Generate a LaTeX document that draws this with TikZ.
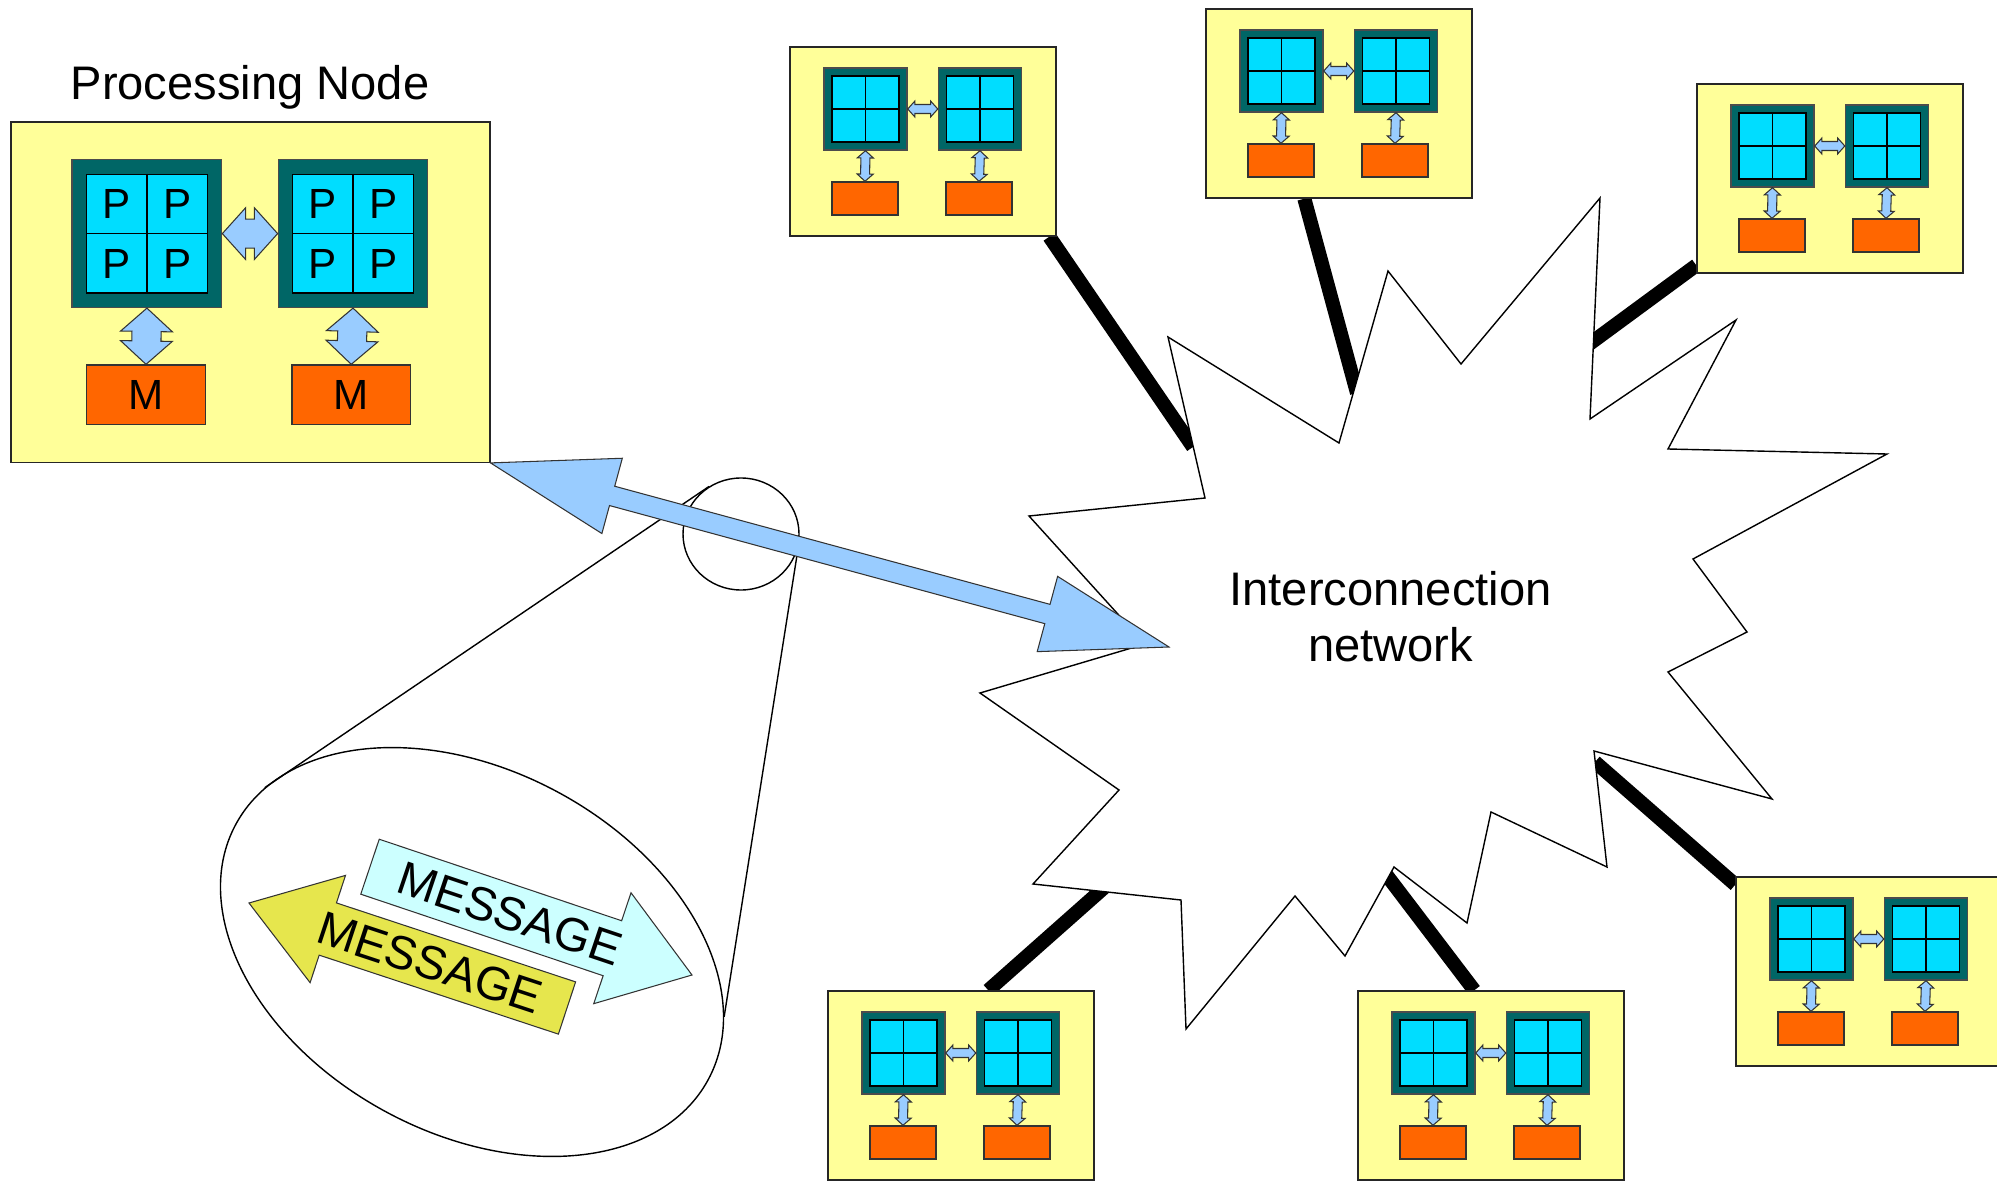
\documentclass[tikz,border=0pt]{standalone}
\usepackage{fontspec}
\setmainfont{Liberation Sans}
\usepackage{tikz}
\usetikzlibrary{calc, backgrounds, shapes.geometric}
\definecolor{nodeyellow}{RGB}{255,255,153}
\definecolor{chipteal}{RGB}{0,102,102}
\definecolor{corecyan}{RGB}{0,221,255}
\definecolor{memorange}{RGB}{255,102,0}
\definecolor{busblue}{RGB}{153,204,255}
\definecolor{msgcyan}{RGB}{204,255,255}
\definecolor{msgyellow}{RGB}{230,230,77}
\newcommand{\pnscale}{1}
\tikzset{
  pnbox/.style={rectangle, draw=black!85, fill=nodeyellow, inner sep=0pt,
                minimum width=\pnscale*2.66cm, minimum height=\pnscale*1.89cm},
  chip/.style={rectangle, draw=black!70, fill=chipteal, inner sep=0pt,
               minimum width=\pnscale*0.83cm, minimum height=\pnscale*0.82cm},
  cores/.style={rectangle, draw=black, fill=corecyan, inner sep=0pt,
                minimum width=\pnscale*0.67cm, minimum height=\pnscale*0.66cm},
  mem/.style={rectangle, draw=black!80, fill=memorange, inner sep=0pt,
              minimum width=\pnscale*0.66cm, minimum height=\pnscale*0.33cm},
  plbl/.style={inner sep=0pt, font=\fontsize{12}{12}\selectfont},
  bus/.style={draw=black!80, fill=busblue, line width=0.3pt},
  link/.style={line width=4pt, black},
  cloud/.style={draw=black, fill=white, line width=0.4pt},
  lens/.style={draw=black, line width=0.4pt},
  msg/.style={inner sep=0pt, font=\fontsize{13.4}{13.4}\selectfont},
  title/.style={inner sep=0pt, font=\fontsize{13.4}{16}\selectfont, align=center},
}
% block arrow with two heads: ends, shaft half width, head half width, head length
\newcommand{\dblarrow}[5]{%
  \draw[bus] (#1) -- ($(#1)!#5!(#2)!#4!90:(#2)$) -- ($(#1)!#5!(#2)!#3!90:(#2)$)
    -- ($(#2)!#5!(#1)!#3!-90:(#1)$) -- ($(#2)!#5!(#1)!#4!-90:(#1)$) -- (#2)
    -- ($(#2)!#5!(#1)!#4!90:(#1)$) -- ($(#2)!#5!(#1)!#3!90:(#1)$)
    -- ($(#1)!#5!(#2)!#3!-90:(#2)$) -- ($(#1)!#5!(#2)!#4!-90:(#2)$) -- cycle;}
% block arrow with one head: tail, tip, shaft, head, head length, fill
\newcommand{\sglarrow}[6]{%
  \draw[bus, fill=#6] ($(#1)!#3!90:(#2)$) -- ($(#2)!#5!(#1)!#3!-90:(#1)$)
    -- ($(#2)!#5!(#1)!#4!-90:(#1)$) -- (#2) -- ($(#2)!#5!(#1)!#4!90:(#1)$)
    -- ($(#2)!#5!(#1)!#3!90:(#1)$) -- ($(#1)!#3!-90:(#2)$) -- cycle;}
% processing node: name, top left corner, scale
\newcommand{\procnode}[3]{%
  \begin{scope}[shift={#2}, scale=#3]
    \renewcommand{\pnscale}{#3}
    \node[pnbox] (#1) at (1.33,-0.945) {};
    \node[chip] (#1-ca) at (0.755,-0.62) {};
    \node[chip] (#1-cb) at (1.90,-0.62) {};
    \node[mem] (#1-ma) at (0.75,-1.515) {};
    \node[mem] (#1-mb) at (1.89,-1.515) {};
    \foreach \cp in {ca,cb} {
      \node[cores] (#1-\cp-in) at (#1-\cp) {};
      \draw (#1-\cp-in.north) -- (#1-\cp-in.south) (#1-\cp-in.west) -- (#1-\cp-in.east);
    }
    \pgfmathsetlengthmacro{\bsh}{#3*0.045cm}
    \pgfmathsetlengthmacro{\bhd}{#3*0.08cm}
    \pgfmathsetlengthmacro{\bln}{#3*0.072cm}
    \dblarrow{#1-ca.east}{#1-cb.west}{\bsh}{\bhd}{\bln}
    \dblarrow{#1-ca.south}{#1-ma.north}{\bsh}{\bhd}{\bln}
    \dblarrow{#1-cb.south}{#1-mb.north}{\bsh}{\bhd}{\bln}
  \end{scope}}

\begin{document}
\begin{tikzpicture}
\useasboundingbox (0,0) rectangle (19.97,-11.81);
\procnode{pn}{(0.11,-1.22)}{1.8}
\procnode{pnA}{(7.90,-0.47)}{1}
\procnode{pnB}{(12.06,-0.09)}{1}
\procnode{pnC}{(16.97,-0.84)}{1}
\procnode{pnD}{(17.36,-8.77)}{1}
\procnode{pnE}{(13.58,-9.91)}{1}
\procnode{pnF}{(8.28,-9.91)}{1}
\node[title, anchor=base] (pntitle) at (2.50,-1.00) {Processing Node};
\foreach \cp in {ca,cb}
  \foreach \q/\k in {north west/1,north east/2,south west/3,south east/4}
    \node[plbl] (pn-\cp-p\k) at ($(pn-\cp-in.center)!0.5!(pn-\cp-in.\q)$) {P};
\node[plbl] (pn-ma-lbl) at (pn-ma) {M};
\node[plbl] (pn-mb-lbl) at (pn-mb) {M};

\coordinate (s1) at (11.93,-4.47);
\coordinate (s2) at (13.57,-3.93);
\coordinate (s3) at (15.88,-3.45);
\coordinate (s4) at (15.95,-7.62);
\coordinate (s5) at (13.85,-8.73);
\coordinate (s6) at (11.06,-8.86);
\coordinate (netin) at (11.69,-6.47);
\begin{scope}[on background layer]
  \draw[link] (pnA.-37) -- (s1);
  \draw[link] (pnB.250) -- (s2);
  \draw[link] (pnC.213) -- (s3);
  \draw[link] (pnD.147) -- (s4);
  \draw[link] (pnE.100) -- (s5);
  \draw[link] (pnF.74) -- (s6);
  \draw[cloud] (11.68,-3.37) -- (13.39,-4.43) -- (13.88,-2.71) -- (14.61,-3.64)
    -- (16.00,-1.98) -- (15.90,-4.19) -- (17.36,-3.20) -- (16.68,-4.49)
    -- (18.87,-4.54) -- (16.93,-5.59) -- (17.47,-6.32) -- (16.68,-6.72)
    -- (17.72,-7.99) -- (15.94,-7.51) -- (16.07,-8.67) -- (14.91,-8.12)
    -- (14.67,-9.23) -- (13.94,-8.67) -- (13.45,-9.56) -- (12.95,-8.96)
    -- (11.86,-10.29) -- (11.81,-9.00) -- (10.33,-8.84) -- (11.19,-7.90)
    -- (9.80,-6.93) -- (11.45,-6.44) -- (10.29,-5.16) -- (12.05,-4.98) -- cycle;
\end{scope}
\node[title] (net) at (13.905,-6.17) {Interconnection\\network};

\node[lens, ellipse, minimum width=1.16cm, minimum height=1.12cm, inner sep=0pt] (lens) at (7.41,-5.34) {};
\node[lens, ellipse, minimum width=5.37cm, minimum height=3.63cm, inner sep=0pt, rotate=-28.4] (zoom) at (4.72,-9.52) {};
\draw[lens] (lens.124) -- (zoom.170);
\draw[lens] (lens.350) -- (zoom.14);

\dblarrow{pn.south east}{netin}{0.10cm}{0.39cm}{1.26cm}

\coordinate (msgAtail) at (3.70,-8.667);
\coordinate (msgAtip) at (6.92,-9.75);
\coordinate (msgBtail) at (5.67,-10.08);
\coordinate (msgBtip) at (2.49,-9.03);
\sglarrow{msgAtail}{msgAtip}{0.29cm}{0.585cm}{0.84cm}{msgcyan}
\sglarrow{msgBtail}{msgBtip}{0.275cm}{0.565cm}{0.83cm}{msgyellow}
\path (msgAtail) -- node[msg, sloped, pos=0.434] (msgA) {MESSAGE} (msgAtip);
\path (msgBtail) -- node[msg, sloped, pos=0.43] (msgB) {MESSAGE} (msgBtip);
\end{tikzpicture}
\end{document}
